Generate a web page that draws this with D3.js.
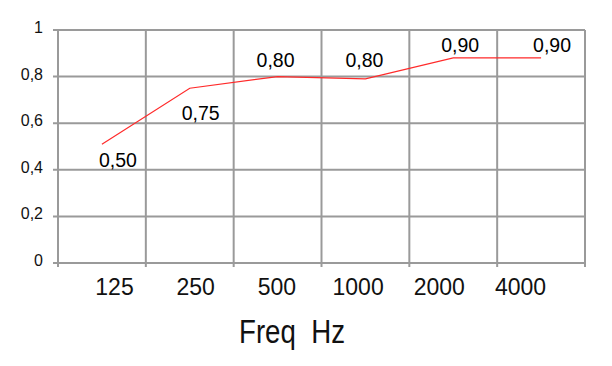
<!DOCTYPE html>
<html><head><meta charset="utf-8">
<script src="https://cdn.jsdelivr.net/npm/d3@7/dist/d3.min.js"></script>
<style>body{margin:0;background:#fff}svg{display:block}</style>
</head><body>
<script>
const categories = ["125", "250", "500", "1000", "2000", "4000"];
const values = [0.51, 0.75, 0.80, 0.79, 0.88, 0.88];
const valueLabels = ["0,50", "0,75", "0,80", "0,80", "0,90", "0,90"];
const yTicks = [0, 0.2, 0.4, 0.6, 0.8, 1];
const yTickLabels = ["0", "0,2", "0,4", "0,6", "0,8", "1"];
const axisTitle = "Freq\u00a0\u00a0Hz";

const W = 612, H = 366;
const m = {left: 58, right: 27, top: 30, bottom: 103};
const svg = d3.select("body").append("svg").attr("width", W).attr("height", H);

const x = d3.scaleBand().domain(categories).range([m.left, W - m.right]);
const y = d3.scaleLinear().domain([0, 1]).range([H - m.bottom, m.top]);
const gridColor = "#9a9a9a";

// horizontal grid
svg.append("g").selectAll("line").data(yTicks).join("line")
  .attr("x1", m.left - 5).attr("x2", W - m.right)
  .attr("y1", d => y(d)).attr("y2", d => y(d))
  .attr("stroke", gridColor).attr("stroke-width", 2);

// vertical grid (band edges)
const edges = categories.map(c => x(c)).concat([x(categories[categories.length - 1]) + x.bandwidth()]);
svg.append("g").selectAll("line").data(edges).join("line")
  .attr("x1", d => d).attr("x2", d => d)
  .attr("y1", m.top).attr("y2", y(0) + 4)
  .attr("stroke", gridColor).attr("stroke-width", 2);

// y tick labels
const yAxis = d3.axisLeft(y).tickValues(yTicks).tickSize(0).tickPadding(15)
  .tickFormat((d, i) => yTickLabels[i]);
const gy = svg.append("g").attr("transform", `translate(${m.left},0)`).call(yAxis);
gy.select(".domain").remove();
gy.selectAll("text").attr("font-family", "Liberation Sans, Arial, sans-serif")
  .attr("font-size", 16).attr("fill", "#111").attr("dy", "0.15em");

// x tick labels
const xLab = d3.scalePoint().domain(categories).range([114, 520]);
const xAxis = d3.axisBottom(xLab).tickSize(0).tickPadding(0);
const gx = svg.append("g").attr("transform", `translate(0,${y(0) + 15})`).call(xAxis);
gx.select(".domain").remove();
gx.selectAll("text").attr("font-family", "Liberation Sans, Arial, sans-serif")
  .attr("font-size", 23).attr("fill", "#111").attr("dy", "0.72em");

// axis title
svg.append("text").attr("x", 292).attr("y", 343)
  .attr("text-anchor", "middle")
  .attr("font-family", "Liberation Sans, Arial, sans-serif")
  .attr("font-size", 33).attr("fill", "#111")
  .attr("textLength", 106).attr("lengthAdjust", "spacingAndGlyphs")
  .text(axisTitle);

// line
const line = d3.line().x((d, i) => x(categories[i]) + x.bandwidth() / 2).y(d => y(d));
svg.append("path").datum(values).attr("d", line)
  .attr("fill", "none").attr("stroke", "#ff2a2a").attr("stroke-width", 1.2);

// data labels
const ldx = [16, 11, -2, -1, 7, 11];
const ldy = [23, 32, -10, -12, -6, -6];
svg.append("g").selectAll("text").data(values).join("text")
  .attr("x", (d, i) => x(categories[i]) + x.bandwidth() / 2 + ldx[i])
  .attr("y", (d, i) => y(d) + ldy[i])
  .attr("text-anchor", "middle")
  .attr("font-family", "Liberation Sans, Arial, sans-serif")
  .attr("font-size", 19.5).attr("fill", "#000")
  .text((d, i) => valueLabels[i]);
</script>
</body></html>
